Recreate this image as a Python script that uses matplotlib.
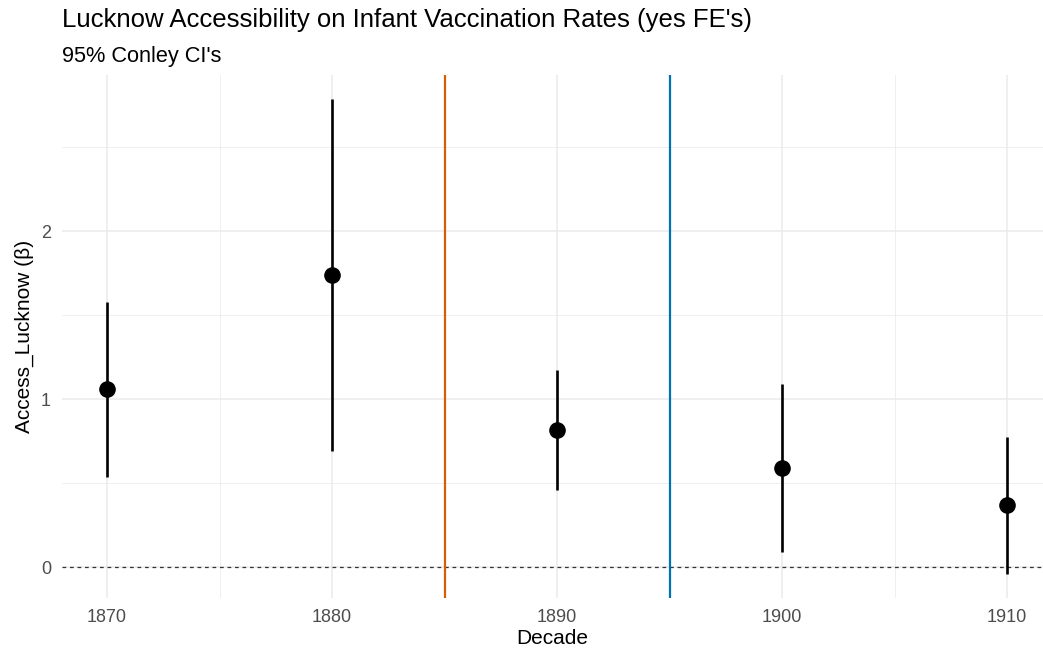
import numpy as np
import matplotlib.pyplot as plt

plt.rcParams['font.family'] = ['Liberation Sans', 'DejaVu Sans']

# estimates
decades = [1870, 1880, 1890, 1900, 1910]
estimate = [1.06, 1.74, 0.815, 0.589, 0.369]
ci_low = [0.536, 0.69, 0.458, 0.089, -0.042]
ci_high = [1.577, 2.786, 1.173, 1.089, 0.774]
event_lines = [1885, 1895]
event_colors = ["#D55E00", "#0072B2"]

fig = plt.figure(figsize=(10.43, 6.52), dpi=100)
ax = fig.add_axes([62 / 1043, 54 / 652, (1043 - 62) / 1043, (598 - 75) / 652])

ax.set_xlim(1868, 1911.6)
ax.set_ylim(-0.183, 2.93)

ax.set_xticks(decades)
ax.set_xticks([1875, 1885, 1895, 1905], minor=True)
ax.set_yticks([0, 1, 2])
ax.set_yticks([0.5, 1.5, 2.5], minor=True)

ax.grid(which="major", color="#EBEBEB", linewidth=1.1)
ax.grid(which="minor", color="#EBEBEB", linewidth=0.55)
ax.set_axisbelow(True)
for s in ax.spines.values():
    s.set_visible(False)
ax.tick_params(which="both", length=0, labelsize=13, labelcolor="#4D4D4D", pad=8)

ax.axhline(0, color="#333333", linestyle=(0, (3, 3)), linewidth=0.9, zorder=2)
for x, c in zip(event_lines, event_colors):
    ax.axvline(x, color=c, linewidth=1.6, zorder=2)

ax.vlines(decades, ci_low, ci_high, color="black", linewidth=1.9, zorder=3)
ax.scatter(decades, estimate, s=120, color="black", zorder=4)

ax.set_xlabel("Decade", fontsize=15, labelpad=2)
ax.set_ylabel("Access_Lucknow (\u03b2)", fontsize=15, labelpad=5)

fig.text(62 / 1043, 1 - 27 / 652, "Lucknow Accessibility on Infant Vaccination Rates (yes FE's)",
         fontsize=18.5, ha="left", va="baseline")
fig.text(62 / 1043, 1 - 62 / 652, "95% Conley CI's", fontsize=15.7, ha="left", va="baseline")

fig.savefig("out.png", dpi=100)
